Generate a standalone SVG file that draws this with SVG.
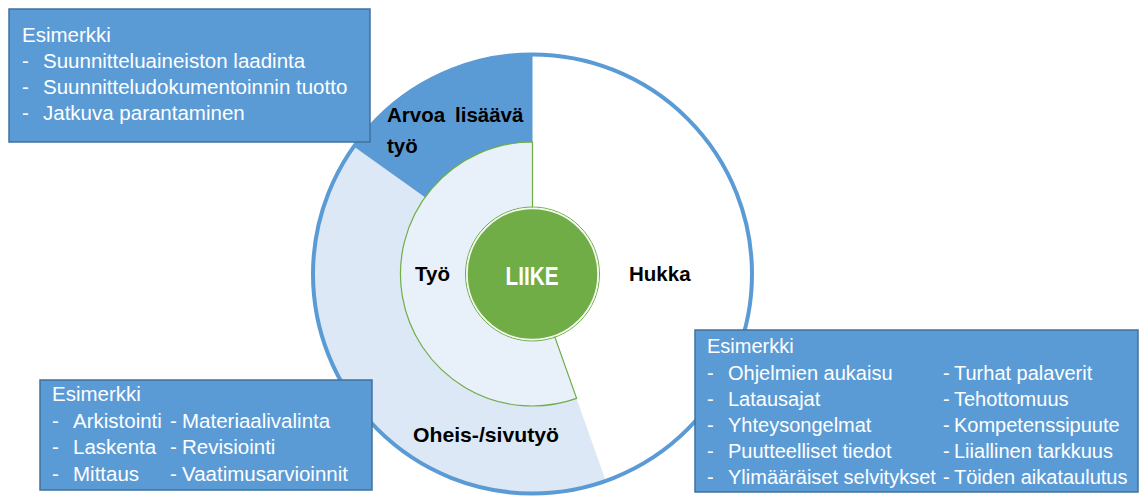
<svg xmlns="http://www.w3.org/2000/svg" width="1141" height="498" viewBox="0 0 1141 498">
<style>
.box{fill:#5b9bd5;stroke:#41719c;stroke-width:1.5}
.bt{font-family:"Liberation Sans",Arial,sans-serif;font-size:20.5px;fill:#ffffff}
.bt3{font-family:"Liberation Sans",Arial,sans-serif;font-size:20px;fill:#ffffff}
.lbl{font-family:"Liberation Sans",Arial,sans-serif;font-size:20.5px;font-weight:bold;fill:#000000}
</style>
<rect width="1141" height="498" fill="#ffffff"/>
<g id="diagram">
  <circle id="hukka-area" cx="532.5" cy="274" r="219.5" fill="#ffffff"/>
  <path id="oheis-sector" d="M532.5,274 L605.8,480.9 A219.5,219.5 0 0 1 353.8,146.5 Z" fill="#dce8f5"/>
  <path id="arvoa-sector" d="M532.5,274 L353.8,146.5 A219.5,219.5 0 0 1 532.5,54.5 Z" fill="#5b9bd5"/>
  <path id="tyo-sector" d="M532.5,274 L576.6,398.4 A132,132 0 1 1 532.5,142 Z" fill="#e8f0f9" stroke="#70ad47" stroke-width="1.2"/>
  <circle cx="532.5" cy="274" r="67" fill="none" stroke="#70ad47" stroke-width="1"/>
  <circle id="liike" cx="532.5" cy="274" r="65.5" fill="#70ad47" stroke="#f4f9f0" stroke-width="1.5"/>
  <circle id="outer-ring" cx="532.5" cy="274" r="219.5" fill="none" stroke="#5b9bd5" stroke-width="4"/>
</g>
<g id="labels">
  <text class="lbl" x="387" y="122">Arvoa</text>
  <text class="lbl" x="455" y="122">lisäävä</text>
  <text class="lbl" x="387" y="153">työ</text>
  <text class="lbl" x="415" y="281">Työ</text>
  <text class="lbl" x="629" y="281">Hukka</text>
  <text class="lbl" x="413" y="442" textLength="146" lengthAdjust="spacingAndGlyphs">Oheis-/sivutyö</text>
  <text x="532" y="285" text-anchor="middle" font-family="'Liberation Sans',Arial,sans-serif" font-size="25" font-weight="bold" fill="#ffffff" textLength="53" lengthAdjust="spacingAndGlyphs">LIIKE</text>
</g>
<g id="box-value">
  <rect class="box" x="9" y="9" width="361" height="133"/>
  <text class="bt" x="22" y="42">Esimerkki</text>
  <text class="bt" x="22" y="68">-</text><text class="bt" x="43" y="68">Suunnitteluaineiston laadinta</text>
  <text class="bt" x="22" y="94">-</text><text class="bt" x="43" y="94">Suunnitteludokumentoinnin tuotto</text>
  <text class="bt" x="22" y="120">-</text><text class="bt" x="43" y="120">Jatkuva parantaminen</text>
</g>
<g id="box-side">
  <rect class="box" x="40" y="380" width="332" height="110"/>
  <text class="bt" x="52" y="401">Esimerkki</text>
  <text class="bt" x="52" y="428">-</text><text class="bt" x="73" y="428">Arkistointi</text>
  <text class="bt" x="170" y="428">-</text><text class="bt" x="182" y="428">Materiaalivalinta</text>
  <text class="bt" x="52" y="454">-</text><text class="bt" x="73" y="454">Laskenta</text>
  <text class="bt" x="170" y="454">-</text><text class="bt" x="182" y="454">Revisiointi</text>
  <text class="bt" x="52" y="481">-</text><text class="bt" x="73" y="481">Mittaus</text>
  <text class="bt" x="170" y="481">-</text><text class="bt" x="182" y="481">Vaatimusarvioinnit</text>
</g>
<g id="box-waste">
  <rect class="box" x="695" y="330" width="443" height="162"/>
  <text class="bt3" x="707" y="353">Esimerkki</text>
  <text class="bt3" x="707" y="380">-</text><text class="bt3" x="728" y="380">Ohjelmien aukaisu</text>
  <text class="bt3" x="943" y="380">-</text><text class="bt3" x="954" y="380">Turhat palaverit</text>
  <text class="bt3" x="707" y="406">-</text><text class="bt3" x="728" y="406">Latausajat</text>
  <text class="bt3" x="943" y="406">-</text><text class="bt3" x="954" y="406">Tehottomuus</text>
  <text class="bt3" x="707" y="432">-</text><text class="bt3" x="728" y="432">Yhteysongelmat</text>
  <text class="bt3" x="943" y="432">-</text><text class="bt3" x="954" y="432">Kompetenssipuute</text>
  <text class="bt3" x="707" y="458">-</text><text class="bt3" x="728" y="458">Puutteelliset tiedot</text>
  <text class="bt3" x="943" y="458">-</text><text class="bt3" x="954" y="458">Liiallinen tarkkuus</text>
  <text class="bt3" x="707" y="484">-</text><text class="bt3" x="728" y="484">Ylimääräiset selvitykset</text>
  <text class="bt3" x="943" y="484">-</text><text class="bt3" x="954" y="484">Töiden aikataulutus</text>
</g>
</svg>
